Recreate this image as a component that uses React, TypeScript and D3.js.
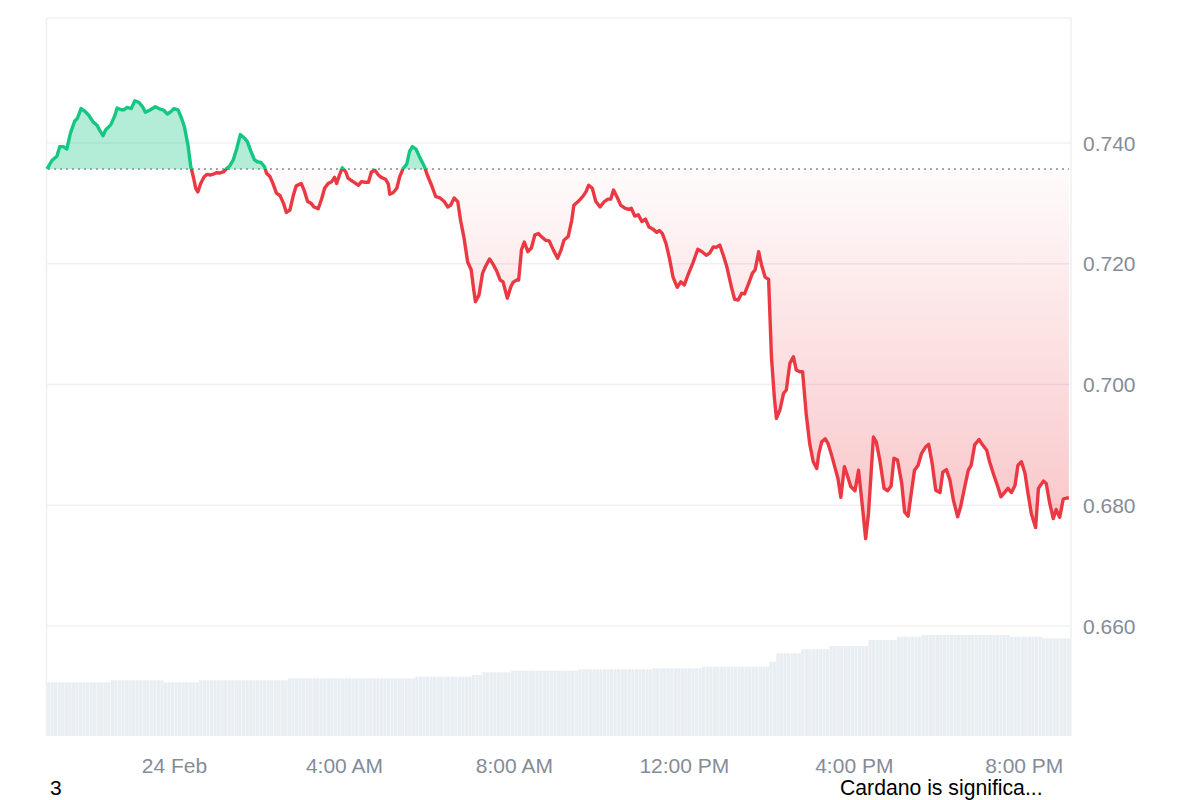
import React from 'react';
import * as d3 from 'd3';

// Start of the window: 23 Feb 2025, 21:00 (UTC); series length in minutes
const START_MS = Date.UTC(2025, 1, 23, 21, 0);
const SPAN_MIN = 1446;

// [minutes from start, price in USD]
const priceSeries: [number, number][] = [
  [0, 0.7357], [7, 0.7371], [14, 0.7378], [18, 0.7394], [23, 0.7394], [28, 0.7390], [33, 0.7416], [39, 0.7436],
  [43, 0.7441], [48, 0.7457], [53, 0.7453], [59, 0.7446], [65, 0.7435], [71, 0.7429], [73, 0.7424], [79, 0.7412],
  [83, 0.7422], [90, 0.7430], [96, 0.7446], [99, 0.7458], [105, 0.7455], [109, 0.7455], [113, 0.7459], [119, 0.7457],
  [124, 0.7470], [130, 0.7467], [135, 0.7460], [139, 0.7451], [146, 0.7455], [153, 0.7460], [160, 0.7456], [164, 0.7455],
  [170, 0.7448], [175, 0.7452], [179, 0.7457], [185, 0.7455], [190, 0.7441], [194, 0.7427], [199, 0.7397], [203, 0.7361],
  [207, 0.7342], [210, 0.7325], [213, 0.7319], [217, 0.7333], [222, 0.7344], [226, 0.7348], [231, 0.7347], [236, 0.7349],
  [240, 0.7351], [243, 0.7350], [249, 0.7352], [254, 0.7358], [258, 0.7362], [263, 0.7372], [268, 0.7391], [273, 0.7414],
  [279, 0.7408], [283, 0.7402], [288, 0.7386], [293, 0.7372], [297, 0.7369], [302, 0.7368], [307, 0.7361], [310, 0.7350],
  [315, 0.7344], [319, 0.7333], [324, 0.7317], [329, 0.7313], [334, 0.7300], [338, 0.7285], [343, 0.7289], [348, 0.7314],
  [352, 0.7329], [359, 0.7333], [363, 0.7322], [368, 0.7303], [373, 0.7300], [377, 0.7294], [383, 0.7291], [388, 0.7308],
  [392, 0.7325], [397, 0.7333], [402, 0.7336], [406, 0.7343], [409, 0.7333], [413, 0.7347], [417, 0.7359], [422, 0.7352],
  [425, 0.7342], [431, 0.7337], [436, 0.7333], [440, 0.7330], [444, 0.7336], [449, 0.7335], [454, 0.7335], [458, 0.7352],
  [463, 0.7355], [468, 0.7347], [472, 0.7343], [478, 0.7340], [482, 0.7332], [484, 0.7315], [489, 0.7318], [494, 0.7325],
  [498, 0.7344], [503, 0.7358], [508, 0.7365], [512, 0.7386], [516, 0.7394], [521, 0.7390], [526, 0.7377], [533, 0.7361],
  [537, 0.7347], [543, 0.7330], [549, 0.7311], [555, 0.7309], [561, 0.7303], [566, 0.7294], [570, 0.7297], [575, 0.7309],
  [580, 0.7303], [584, 0.7272], [589, 0.7242], [594, 0.7203], [599, 0.7190], [602, 0.7162], [605, 0.7137], [610, 0.7148],
  [615, 0.7184], [619, 0.7195], [625, 0.7208], [630, 0.7199], [635, 0.7188], [640, 0.7173], [644, 0.7170], [650, 0.7143],
  [655, 0.7162], [658, 0.7169], [663, 0.7173], [666, 0.7173], [670, 0.7223], [674, 0.7236], [679, 0.7220], [684, 0.7226],
  [689, 0.7248], [694, 0.7250], [698, 0.7245], [704, 0.7239], [709, 0.7238], [715, 0.7223], [721, 0.7209], [726, 0.7223],
  [730, 0.7239], [736, 0.7245], [741, 0.7272], [744, 0.7297], [750, 0.7303], [757, 0.7312], [761, 0.7319], [765, 0.7330],
  [770, 0.7325], [775, 0.7303], [781, 0.7294], [787, 0.7303], [792, 0.7307], [796, 0.7307], [800, 0.7322], [806, 0.7308],
  [810, 0.7297], [816, 0.7292], [821, 0.7290], [825, 0.7292], [830, 0.7279], [835, 0.7281], [840, 0.7270], [845, 0.7274],
  [850, 0.7261], [856, 0.7257], [861, 0.7252], [865, 0.7255], [869, 0.7250], [874, 0.7234], [879, 0.7209], [884, 0.7178],
  [890, 0.7161], [895, 0.7170], [900, 0.7165], [905, 0.7181], [912, 0.7201], [919, 0.7224], [925, 0.7220], [931, 0.7214],
  [936, 0.7218], [941, 0.7228], [945, 0.7227], [950, 0.7231], [955, 0.7214], [960, 0.7195], [967, 0.7159], [971, 0.7141],
  [976, 0.7140], [981, 0.7151], [985, 0.7150], [991, 0.7168], [996, 0.7184], [1000, 0.7190], [1005, 0.7220], [1009, 0.7198],
  [1014, 0.7178], [1019, 0.7174], [1023, 0.7046], [1027, 0.6980], [1030, 0.6944], [1035, 0.6958], [1040, 0.6985], [1044, 0.6991],
  [1049, 0.7035], [1054, 0.7046], [1058, 0.7024], [1063, 0.7021], [1067, 0.7021], [1072, 0.6952], [1077, 0.6902], [1082, 0.6872],
  [1087, 0.6861], [1090, 0.6886], [1094, 0.6905], [1099, 0.6910], [1103, 0.6902], [1108, 0.6883], [1113, 0.6861], [1117, 0.6844],
  [1121, 0.6813], [1126, 0.6864], [1130, 0.6850], [1135, 0.6831], [1141, 0.6824], [1146, 0.6858], [1151, 0.6803], [1156, 0.6745],
  [1160, 0.6786], [1167, 0.6913], [1171, 0.6905], [1176, 0.6875], [1182, 0.6828], [1187, 0.6824], [1192, 0.6832], [1196, 0.6878],
  [1201, 0.6875], [1207, 0.6836], [1211, 0.6789], [1216, 0.6782], [1221, 0.6825], [1225, 0.6858], [1230, 0.6866], [1235, 0.6886],
  [1241, 0.6897], [1245, 0.6901], [1250, 0.6869], [1255, 0.6825], [1261, 0.6821], [1265, 0.6855], [1270, 0.6859], [1275, 0.6842],
  [1280, 0.6808], [1286, 0.6781], [1290, 0.6797], [1296, 0.6831], [1301, 0.6858], [1305, 0.6866], [1310, 0.6900], [1316, 0.6909],
  [1320, 0.6902], [1327, 0.6891], [1331, 0.6872], [1337, 0.6850], [1342, 0.6833], [1347, 0.6814], [1352, 0.6821], [1357, 0.6828],
  [1362, 0.6821], [1367, 0.6833], [1371, 0.6866], [1376, 0.6872], [1381, 0.6853], [1385, 0.6822], [1390, 0.6786], [1396, 0.6763],
  [1400, 0.6828], [1407, 0.6840], [1411, 0.6836], [1416, 0.6803], [1421, 0.6778], [1425, 0.6793], [1430, 0.6780], [1435, 0.6810],
  [1440, 0.6812], [1443, 0.6812],
];

// Volume (relative units) as runs: [run ends at minute, volume]
const volumeRuns: [number, number][] = [
  [88, 537], [161, 557], [212, 537], [336, 557], [517, 577], [596, 593], [614, 610], [652, 637], [747, 653],
  [851, 667], [922, 677], [1018, 693], [1029, 743], [1062, 827], [1105, 867], [1159, 900], [1197, 960],
  [1234, 993], [1360, 1010], [1402, 993], [1450, 977],
];
const VOLUME_STEP_MIN = 5;

const yTickValues = [0.66, 0.68, 0.7, 0.72, 0.74];
const xTickMinutes = [180, 420, 660, 900, 1140, 1380];

const footerLeft = '3';
const footerRight = 'Cardano is significa...';

const GREEN = '#16c784';
const RED = '#ea3943';
const GRID = '#eef0f3';
const LABEL = '#858c99';
const FONT = '"Liberation Sans", Arial, Helvetica, sans-serif';

export default function App() {
  const W = 1200;
  const H = 800;
  const left = 47;
  const right = 1071;
  const top = 18;
  const bottom = 736;

  const toDate = (m: number) => new Date(START_MS + m * 60000);

  const x = d3.scaleTime().domain([toDate(0), toDate(SPAN_MIN)]).range([left, right]);
  const y = d3.scaleLinear().domain([0.66, 0.74]).range([626, 143]);
  const yVol = d3.scaleLinear().domain([0, 1000]).range([bottom, bottom - 100]);

  const data = priceSeries.map(([m, p]) => ({ t: toDate(m), p }));
  const basePrice = data[0].p;
  const by = y(basePrice);

  const line = d3.line<{ t: Date; p: number }>().x(d => x(d.t)).y(d => y(d.p));
  const area = d3
    .area<{ t: Date; p: number }>()
    .x(d => x(d.t))
    .y0(by)
    .y1(d => y(d.p));
  const linePath = line(data) || '';
  const areaPath = area(data) || '';

  // volume bars
  const bars: { x0: number; x1: number; v: number }[] = [];
  for (let m = 0; m < SPAN_MIN; m += VOLUME_STEP_MIN) {
    const run = volumeRuns.find(r => m < r[0]) || volumeRuns[volumeRuns.length - 1];
    const end = Math.min(m + VOLUME_STEP_MIN, SPAN_MIN);
    bars.push({ x0: x(toDate(m)), x1: x(toDate(end)), v: run[1] });
  }

  const fmtY = d3.format('.3f');
  const fmtDay = d3.utcFormat('%-d %b');
  const fmtHour = d3.utcFormat('%-I:%M %p');
  const xLabel = (d: Date) => (d.getUTCHours() === 0 ? fmtDay(d) : fmtHour(d));

  return (
    <svg
      width={W}
      height={H}
      style={{ position: 'absolute', left: 0, top: 0, background: '#fff' }}
      fontFamily={FONT}
    >
      <defs>
        <clipPath id="above">
          <rect x={0} y={0} width={W} height={by} />
        </clipPath>
        <clipPath id="below">
          <rect x={0} y={by} width={W} height={H - by} />
        </clipPath>
        <linearGradient id="redFill" gradientUnits="userSpaceOnUse" x1={0} y1={by} x2={0} y2={545}>
          <stop offset="0%" stopColor={RED} stopOpacity={0.02} />
          <stop offset="100%" stopColor={RED} stopOpacity={0.3} />
        </linearGradient>
      </defs>

      {/* grid */}
      {yTickValues.map(v => (
        <line key={v} x1={left} x2={right} y1={y(v)} y2={y(v)} stroke={GRID} strokeWidth={1.5} />
      ))}
      <line x1={left} x2={right} y1={top} y2={top} stroke={GRID} strokeWidth={1.5} />
      <line x1={left - 0.5} x2={left - 0.5} y1={top} y2={bottom} stroke={GRID} strokeWidth={1.5} />
      <line x1={right} x2={right} y1={top} y2={bottom} stroke={GRID} strokeWidth={1.5} />

      {/* volume */}
      {bars.map((b, i) => (
        <rect
          key={i}
          x={b.x0}
          y={yVol(b.v)}
          width={Math.max(0.5, b.x1 - b.x0 - 0.3)}
          height={bottom - yVol(b.v)}
          fill="#e9eef2"
        />
      ))}

      {/* areas */}
      <path d={areaPath} fill={GREEN} fillOpacity={0.32} clipPath="url(#above)" />
      <path d={areaPath} fill="url(#redFill)" clipPath="url(#below)" />

      {/* baseline */}
      <line
        x1={left + 1}
        x2={right - 2}
        y1={by}
        y2={by}
        stroke="#8a8a8a"
        strokeWidth={1.5}
        strokeDasharray="2 4"
      />

      {/* price line */}
      <path d={linePath} fill="none" stroke={GREEN} strokeWidth={3.4} strokeLinejoin="round" clipPath="url(#above)" />
      <path d={linePath} fill="none" stroke={RED} strokeWidth={3.4} strokeLinejoin="round" clipPath="url(#below)" />

      {/* y axis labels */}
      {yTickValues.map(v => (
        <text key={v} x={1083} y={y(v)} dy="0.36em" fontSize={21} fill={LABEL}>
          {fmtY(v)}
        </text>
      ))}

      {/* x axis labels */}
      {xTickMinutes.map(m => {
        const d = toDate(m);
        return (
          <text key={m} x={x(d)} y={773} textAnchor="middle" fontSize={21} fill={LABEL}>
            {xLabel(d)}
          </text>
        );
      })}

      <text x={50} y={795} fontSize={21} fill="#000">
        {footerLeft}
      </text>
      <text x={840} y={795} fontSize={21.2} fill="#000">
        {footerRight}
      </text>
    </svg>
  );
}
